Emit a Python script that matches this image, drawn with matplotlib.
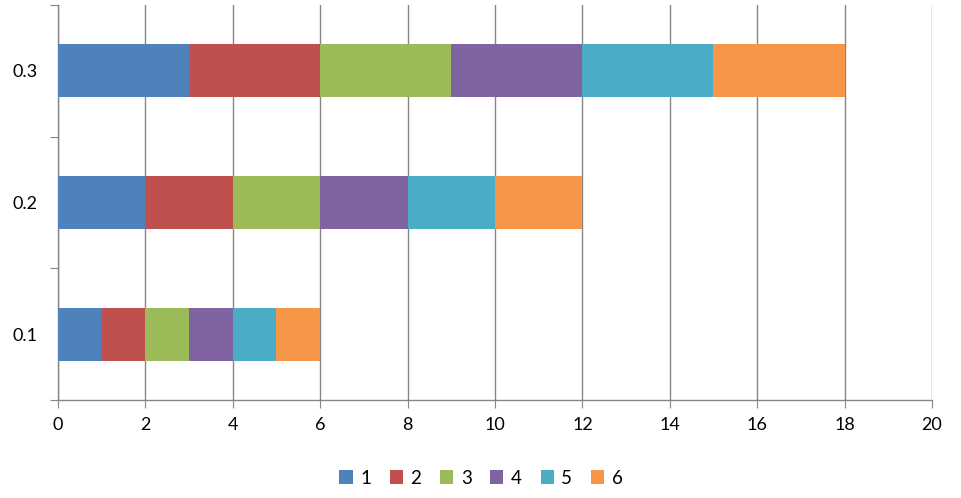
import matplotlib.pyplot as plt
import numpy as np

plt.rcParams['font.family'] = ['Lato', 'DejaVu Sans']

# данные
categories = ['0.1', '0.2', '0.3']
series_names = ['1', '2', '3', '4', '5', '6']
s1 = [1, 2, 3]
s2 = [1, 2, 3]
s3 = [1, 2, 3]
s4 = [1, 2, 3]
s5 = [1, 2, 3]
s6 = [1, 2, 3]
series = [s1, s2, s3, s4, s5, s6]
colors = ['#4F81BD', '#C0504D', '#9BBB59', '#8064A2', '#4BACC6', '#F79646']
xticks = [0, 2, 4, 6, 8, 10, 12, 14, 16, 18, 20]

axis_color = '#868686'

fig = plt.figure(figsize=(9.62, 4.98), dpi=100)
ax = fig.add_axes([58 / 962, 98 / 498, 874 / 962, 395 / 498])

y = np.arange(len(categories))
left = np.zeros(len(categories))
for name, vals, c in zip(series_names, series, colors):
    ax.barh(y, vals, left=left, height=0.4, color=c, label=name, zorder=3)
    left += np.array(vals)

ax.set_xlim(0, 20)
ax.set_ylim(-0.5, len(categories) - 0.5)
ax.set_xticks(xticks)
ax.set_xticklabels([str(t) for t in xticks])

# деления на границах категорий, подписи по центру
ax.set_yticks(np.arange(-0.5, len(categories), 1.0))
ax.set_yticklabels([])
ax.set_yticks(y, minor=True)
ax.set_yticklabels(categories, minor=True)
ax.tick_params(axis='y', which='minor', length=0, pad=15)
ax.tick_params(axis='y', which='major', length=6, color=axis_color)
ax.tick_params(axis='x', length=6, color=axis_color, pad=6)
ax.tick_params(which='both', labelsize=13)

ax.grid(True, axis='x', color=axis_color, linewidth=1, zorder=0)
ax.set_axisbelow(True)
for sp in ['top', 'right']:
    ax.spines[sp].set_visible(False)
for sp in ['left', 'bottom']:
    ax.spines[sp].set_color(axis_color)
    ax.spines[sp].set_linewidth(1)

fig.legend(loc='center', bbox_to_anchor=(0.5, 1 - 478 / 498), ncol=6,
           frameon=False, fontsize=13.5, handlelength=0.7, handleheight=0.7,
           handletextpad=0.4, columnspacing=1.0)

fig.savefig('out.png', dpi=100)
